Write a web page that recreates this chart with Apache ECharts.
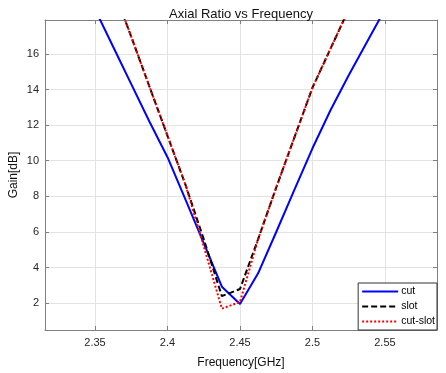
<!DOCTYPE html>
<html>
<head>
<meta charset="utf-8">
<script src="https://cdn.jsdelivr.net/npm/echarts@6/dist/echarts.min.js"></script>
<style>
html,body{margin:0;padding:0;background:#fff;}
#c{width:446px;height:373px;}
</style>
</head>
<body>
<div id="c"></div>
<script>
// Data (frequency in GHz, values in dB)
const freq = [2.35, 2.3625, 2.375, 2.3875, 2.4, 2.4125, 2.425, 2.4375, 2.45, 2.4625, 2.475, 2.4875, 2.5, 2.5125, 2.525, 2.5375, 2.55];
const cut = [18.5, 16.4, 14.3, 12.2, 10.2, 7.8, 5.37, 2.93, 1.96, 3.68, 6.0, 8.36, 10.7, 12.85, 14.8, 16.65, 18.5];
const slot = [22.5, 19.7, 16.96, 14.17, 11.4, 8.63, 5.6, 2.4, 2.8, 5.6, 8.5, 11.3, 14.1, 16.3, 18.5, 20.5, 22.5];
const cutSlot = [22.5, 19.7, 16.96, 14.17, 11.4, 8.63, 5.2, 1.7, 2.07, 5.6, 8.5, 11.3, 14.1, 16.3, 18.5, 20.5, 22.5];
const seriesNames = ['cut', 'slot', 'cut-slot'];
const xTickLabels = ['2.35', '2.4', '2.45', '2.5', '2.55'];
const yTickLabels = ['2', '4', '6', '8', '10', '12', '14', '16'];

const XMIN = 2.3155, XMAX = 2.5859, YMIN = 0.5, YMAX = 17.9;
const pair = arr => freq.map((f, i) => [f, arr[i]]);
const font = 'Liberation Sans, Arial, sans-serif';
const axisCol = '#808080';

const chart = echarts.init(document.getElementById('c'), null, {renderer: 'canvas'});
const baseX = {
  type: 'value', min: XMIN, max: XMAX, splitNumber: 5,
  axisLine: {show: true, lineStyle: {color: axisCol, width: 1}},
  axisTick: {show: true, inside: true, length: 4, lineStyle: {color: axisCol}},
};
const baseY = {
  type: 'value', min: YMIN, max: YMAX, splitNumber: 8,
  axisLine: {show: true, lineStyle: {color: axisCol, width: 1}},
  axisTick: {show: true, inside: true, length: 4, lineStyle: {color: axisCol}},
};
function fmt(list) {
  return v => {
    const s = String(parseFloat(v.toFixed(4)));
    return list.indexOf(s) >= 0 ? s : '';
  };
}
chart.setOption({
  animation: false,
  backgroundColor: '#fff',
  title: {
    text: 'Axial Ratio vs Frequency', left: 236, top: 3, textAlign: 'center',
    textStyle: {fontFamily: font, fontSize: 13, fontWeight: 'normal', color: '#111'}
  },
  grid: {left: 45, right: 9, top: 20, bottom: 43, containLabel: false, outerBoundsMode: 'none'},
  legend: {
    data: seriesNames, orient: 'vertical', right: 9, bottom: 43,
    backgroundColor: '#fff', borderColor: '#333', borderWidth: 1,
    padding: [3, 2, 3, 3], itemWidth: 36, itemHeight: 11, itemGap: 4,
    itemStyle: {opacity: 0},
    textStyle: {fontFamily: font, fontSize: 10.5, color: '#000', padding: [0, 0, 0, -2]}
  },
  xAxis: [
    Object.assign({}, baseX, {
      position: 'bottom',
      name: 'Frequency[GHz]', nameLocation: 'middle', nameGap: 27, nameMoveOverlap: false,
      nameTextStyle: {fontFamily: font, fontSize: 12, color: '#111'},
      axisLabel: {show: true, margin: 7, fontFamily: font, fontSize: 11, color: '#262626',
        showMinLabel: false, showMaxLabel: false, formatter: fmt(xTickLabels)},
      splitLine: {show: true, lineStyle: {color: '#e3e3e3', width: 1}}
    }),
    Object.assign({}, baseX, {
      position: 'top', axisLabel: {show: false}, splitLine: {show: false}
    })
  ],
  yAxis: [
    Object.assign({}, baseY, {
      position: 'left',
      name: 'Gain[dB]', nameLocation: 'middle', nameGap: 25, nameRotate: 90, nameMoveOverlap: false,
      nameTextStyle: {fontFamily: font, fontSize: 12, color: '#111'},
      axisLabel: {show: true, margin: 6, fontFamily: font, fontSize: 11, color: '#262626',
        showMinLabel: false, showMaxLabel: false, formatter: fmt(yTickLabels)},
      splitLine: {show: true, lineStyle: {color: '#e3e3e3', width: 1}}
    }),
    Object.assign({}, baseY, {
      position: 'right', axisLabel: {show: false}, splitLine: {show: false}
    })
  ],
  series: [
    {name: 'cut', type: 'line', data: pair(cut), symbol: 'none', clip: true,
     lineStyle: {color: '#0000ff', width: 2}, itemStyle: {color: '#0000ff'}},
    {name: 'slot', type: 'line', data: pair(slot), symbol: 'none', clip: true,
     lineStyle: {color: '#000000', width: 2, type: [6, 3]}, itemStyle: {color: '#000000'}},
    {name: 'cut-slot', type: 'line', data: pair(cutSlot), symbol: 'none', clip: true,
     lineStyle: {color: '#ff0000', width: 2, type: [2, 2]}, itemStyle: {color: '#ff0000'}}
  ]
});
</script>
</body>
</html>
